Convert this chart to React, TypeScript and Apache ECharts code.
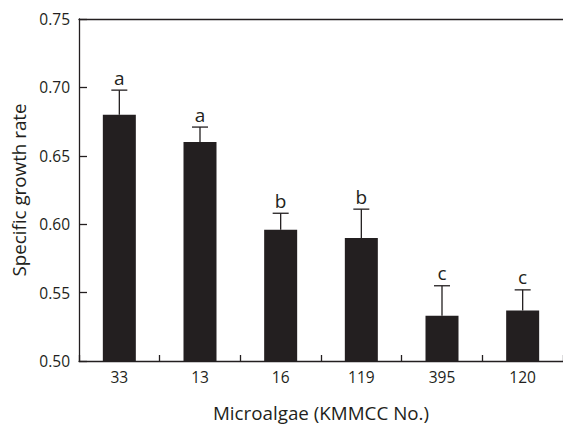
import React, { useEffect, useRef } from "react";
import * as echarts from "echarts";

const categories = ["33", "13", "16", "119", "395", "120"];
const growthRate = [0.68, 0.66, 0.596, 0.59, 0.533, 0.537];
const errorUpper = [0.698, 0.671, 0.608, 0.611, 0.555, 0.552];
const groupLetters = ["a", "a", "b", "b", "c", "c"];
const yTicks = [0.5, 0.55, 0.6, 0.65, 0.7, 0.75];

const INK = "#231f20";
const FONT = "'Open Sans', 'Noto Sans', sans-serif";

export default function App() {
  const ref = useRef<HTMLDivElement>(null);
  useEffect(() => {
    document.body.style.margin = "0";
    if (!ref.current) return;
    const chart = echarts.init(ref.current, undefined, { renderer: "svg" });
    chart.setOption({
      animation: false,
      backgroundColor: "#ffffff",
      grid: { left: 79, top: 19, width: 486, height: 347, containLabel: false },
      xAxis: [
        {
          type: "category",
          data: categories,
          position: "bottom",
          axisLine: { show: true, lineStyle: { color: INK, width: 1.3 } },
          axisTick: { show: true, inside: true, length: 6, lineStyle: { color: INK, width: 1.3 } },
          axisLabel: { color: INK, fontSize: 15.5, fontFamily: FONT, margin: 8 },
          name: "Microalgae (KMMCC No.)",
          nameLocation: "middle",
          nameGap: 42,
          nameTextStyle: { color: INK, fontSize: 18.8, fontFamily: FONT },
        },
        {
          type: "category",
          data: categories,
          position: "top",
          axisLine: { show: true, lineStyle: { color: INK, width: 1.3 } },
          axisTick: { show: false },
          axisLabel: { show: false },
        },
      ],
      yAxis: {
        type: "value",
        min: yTicks[0],
        max: yTicks[yTicks.length - 1],
        interval: 0.05,
        axisLine: { show: true, lineStyle: { color: INK, width: 1.3 } },
        axisTick: { show: true, inside: true, length: 8, lineStyle: { color: INK, width: 1.3 } },
        splitLine: { show: false },
        axisLabel: {
          color: INK,
          fontSize: 15.5,
          fontFamily: FONT,
          margin: 9,
          formatter: (v: number) => v.toFixed(2),
        },
        name: "Specific growth rate",
        nameLocation: "middle",
        nameGap: 50,
        nameTextStyle: { color: INK, fontSize: 18.8, fontFamily: FONT },
      },
      series: [
        {
          type: "bar",
          data: growthRate,
          barWidth: 33,
          itemStyle: { color: INK },
          xAxisIndex: 0,
        },
        {
          type: "custom",
          xAxisIndex: 0,
          data: growthRate.map((v, i) => [i, v, errorUpper[i]]),
          renderItem: (params: any, api: any) => {
            const i = api.value(0);
            const base = api.coord([i, api.value(1)]);
            const top = api.coord([i, api.value(2)]);
            const half = 8;
            return {
              type: "group",
              children: [
                {
                  type: "line",
                  shape: { x1: base[0], y1: base[1], x2: top[0], y2: top[1] },
                  style: { stroke: INK, lineWidth: 1.3 },
                },
                {
                  type: "line",
                  shape: { x1: top[0] - half, y1: top[1], x2: top[0] + half, y2: top[1] },
                  style: { stroke: INK, lineWidth: 1.3 },
                },
                {
                  type: "text",
                  x: top[0],
                  y: top[1] - 3,
                  style: {
                    text: groupLetters[params.dataIndex],
                    fill: INK,
                    font: `19px ${FONT}`,
                    textAlign: "center",
                    textVerticalAlign: "bottom",
                  },
                },
              ],
            };
          },
          z: 5,
        },
      ],
    });
    return () => chart.dispose();
  }, []);
  return <div ref={ref} style={{ width: 563, height: 427 }} />;
}
